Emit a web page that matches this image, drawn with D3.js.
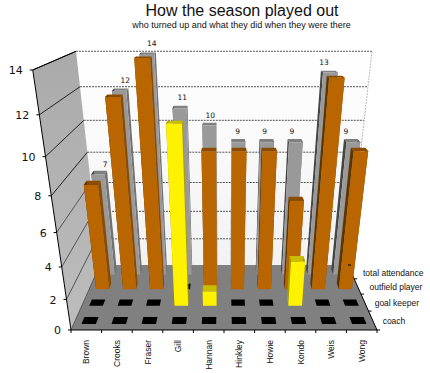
<!DOCTYPE html>
<html>
<head>
<meta charset="utf-8">
<script src="https://d3js.org/d3.v7.min.js"></script>
<style>
  html, body { margin: 0; padding: 0; background: #fff; }
  svg { display: block; }
  text { font-family: "Liberation Sans", Arial, sans-serif; fill: #111; }
  .num { font-family: "DejaVu Sans", Verdana, sans-serif; }
</style>
</head>
<body>
<div id="my_dataviz"></div>
<script>
// values
var players = ["Brown", "Crooks", "Fraser", "Gill", "Hannan", "Hinkley", "Howie", "Kondo", "Weis", "Wong"];
var coach      = [0, 0, 0, 0, 0, 0, 0, 0, 0, 0];
var goalKeeper = [0, 0, 0, 11, 1, 0, 0, 3, 0, 0];
var outfield   = [7, 12, 14, 0, 9, 9, 9, 6, 13, 9];
var attendance = [7, 12, 14, 11, 10, 9, 9, 9, 13, 9];
var rowLabels  = ["coach", "goal keeper", "outfield player", "total attendance"];
var yTicks     = [0, 2, 4, 6, 8, 10, 12, 14];

var width = 430, height = 373;

// scales into the unit cube, then a perspective step onto the page
var xScale = d3.scaleLinear().domain([0, players.length]).range([0, 1]);
var yScale = d3.scaleLinear().domain([0, 14]).range([0, 1]);
var zScale = d3.scaleLinear().domain([0, rowLabels.length]).range([0, 1]);
var labelLift = d3.scaleLinear().domain([7, 14]).range([0, 6]);

function project(i, v, r) {
    var X = xScale(i), Y = yScale(v), Z = zScale(r);
    var w = 1 + 0.234 * Z - 0.2 * Y;
    return [224 + (X - 0.5) * 306 / w, (330 - 274 * Y - 3 * Z) / w];
}

var polygon = d3.line();

var svg = d3.select("#my_dataviz").append("svg")
    .attr("width", width)
    .attr("height", height);

var defs = svg.append("defs");
var backGrad = defs.append("linearGradient").attr("id", "backWall")
    .attr("x1", 0).attr("y1", 0).attr("x2", 0).attr("y2", 1);
backGrad.append("stop").attr("offset", "0%").attr("stop-color", "#ffffff");
backGrad.append("stop").attr("offset", "100%").attr("stop-color", "#f2f2f2");
var sideGrad = defs.append("linearGradient").attr("id", "sideWall")
    .attr("x1", 0).attr("y1", 0).attr("x2", 0).attr("y2", 1);
sideGrad.append("stop").attr("offset", "0%").attr("stop-color", "#aaaaaa");
sideGrad.append("stop").attr("offset", "100%").attr("stop-color", "#bdbdbd");

function face(pts, fill) {
    svg.append("path")
        .attr("d", polygon(pts) + "Z")
        .attr("fill", fill);
}

function segment(a, b, color, dash) {
    svg.append("line")
        .attr("x1", a[0]).attr("y1", a[1])
        .attr("x2", b[0]).attr("y2", b[1])
        .attr("stroke", color)
        .attr("stroke-width", 1)
        .attr("stroke-dasharray", dash || null);
}

var n = players.length, m = rowLabels.length;

// walls and floor
face([project(0, 0, m), project(n, 0, m), project(n, 14, m), project(0, 14, m)], "url(#backWall)");
face([project(0, 0, 0), project(0, 0, m), project(0, 14, m), project(0, 14, 0)], "url(#sideWall)");
face([project(0, 0, 0), project(n, 0, 0), project(n, 0, m), project(0, 0, m)], "#808080");

// grid
yTicks.forEach(function (t) {
    if (t > 0) {
        segment(project(0, t, m), project(n, t, m), "#555", "2,1");
    }
    segment(project(0, t, 0), project(0, t, m), t > 6 ? "#222" : "#555");
    var p = project(0, t, 0);
    segment([p[0] - 3, p[1]], p, "#000");
    svg.append("text")
        .attr("class", "num")
        .attr("x", p[0] - 10)
        .attr("y", p[1] + 0.5)
        .attr("dy", "0.35em")
        .attr("text-anchor", "end")
        .attr("font-size", 11)
        .text(t);
});
segment(project(n, 0, m), project(n, 14, m), "#bbb", "2,1");

// axis lines
segment(project(0, 0, 0), project(0, 14, 0), "#000");
segment(project(0, 14, 0), project(0, 14, m), "#000");
segment(project(0, 0, 0), project(n, 0, 0), "#000");
segment(project(n, 0, 0), project(n, 0, m), "#000");

var palette = [
    { front: "#000000", top: "#000000", left: "#000000", right: "#000000" },
    { front: "#fff200", top: "#c8bd00", left: "#a89f00", right: "#a89f00" },
    { front: "#b96500", top: "#8c4c00", left: "#5e3500", right: "#8a4b00" },
    { front: "#999999", top: "#808080", left: "#454545", right: "#727272" }
];
var rowValues = [coach, goalKeeper, outfield, attendance];

function drawBar(i, v, r) {
    var c = palette[r];
    var x0 = i + 0.26, x1 = i + 0.74, z0 = r + 0.3, z1 = r + 0.67;
    if (v === 0) {
        face([project(x0, 0, z0), project(x1, 0, z0), project(x1, 0, z1), project(x0, 0, z1)], "#000");
        return;
    }
    face([project(x0, v, z0), project(x1, v, z0), project(x1, v, z1), project(x0, v, z1)], c.top);
    face([project(x0, 0, z0), project(x0, v, z0), project(x0, v, z1), project(x0, 0, z1)], c.left);
    face([project(x1, 0, z0), project(x1, v, z0), project(x1, v, z1), project(x1, 0, z1)], c.right);
    face([project(x0, 0, z0), project(x1, 0, z0), project(x1, v, z0), project(x0, v, z0)], c.front);
}

// back rows first so the front ones cover them
for (var r = m - 1; r >= 0; r--) {
    rowValues[r].forEach(function (v, i) {
        drawBar(i, v, r);
    });
}

// floor ticks sit on top of the bars
for (var k = 0; k <= m; k++) {
    var q = project(n, 0, k);
    segment([q[0], q[1]], [q[0] + 3, q[1]], "#000");
}
d3.range(0, n + 1).forEach(function (i) {
    var p = project(i, 0, 0);
    segment(p, [p[0], p[1] + 3], "#000");
});

// value labels above the attendance bars
attendance.forEach(function (v, i) {
    var p = project(i + 0.5, v, 4.4);
    svg.append("text")
        .attr("class", "num")
        .attr("x", p[0])
        .attr("y", p[1] - labelLift(v))
        .attr("dy", "0.35em")
        .attr("text-anchor", "middle")
        .attr("font-size", 7.5)
        .text(v);
});

// player names
players.forEach(function (d, i) {
    var p = project(i + 0.5, 0, 0);
    svg.append("text")
        .attr("transform", "translate(" + (p[0] + 3) + ",340) rotate(-90)")
        .attr("text-anchor", "end")
        .attr("font-size", 8.5)
        .text(d);
});

// row names
rowLabels.forEach(function (d, r) {
    var p = project(n, 0, r + 0.5);
    svg.append("text")
        .attr("x", p[0] + 10 + (r > 1 ? 2 : 0))
        .attr("y", p[1] + 4)
        .attr("font-size", 8.5)
        .text(d);
});

svg.append("text")
    .attr("x", 242).attr("y", 16)
    .attr("text-anchor", "middle")
    .attr("font-size", 16)
    .text("How the season played out");
svg.append("text")
    .attr("x", 241.5).attr("y", 28)
    .attr("text-anchor", "middle")
    .attr("font-size", 9)
    .text("who turned up and what they did when they were there");
</script>
</body>
</html>
